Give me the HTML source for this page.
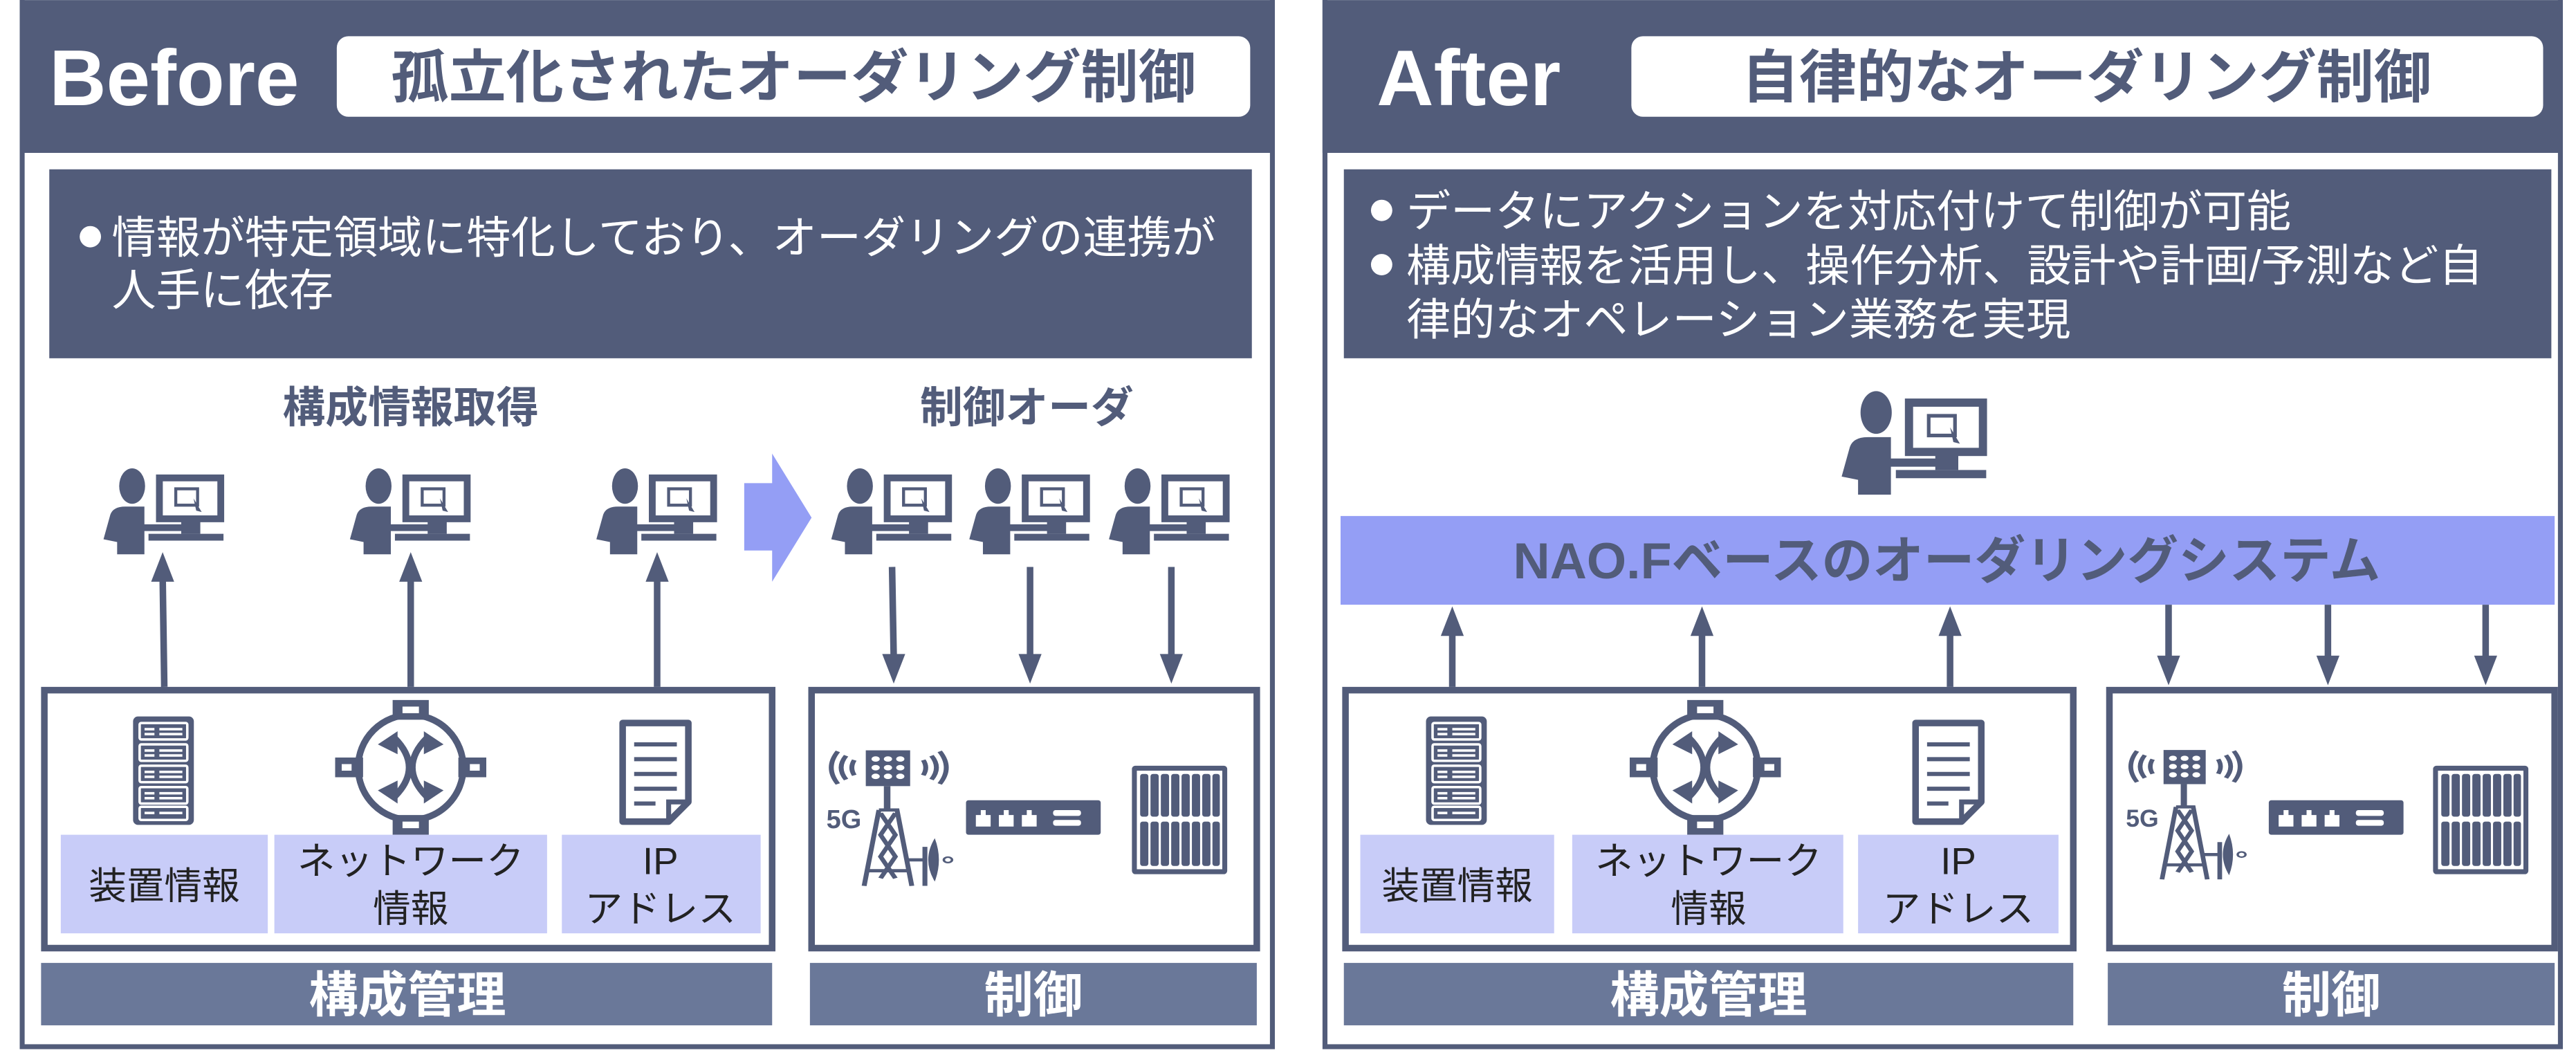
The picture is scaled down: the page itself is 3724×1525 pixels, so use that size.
<!DOCTYPE html>
<html><head><meta charset="utf-8"><style>
html,body{margin:0;padding:0;background:#fff;}
svg{display:block;}
text{font-family:"Liberation Sans","Noto Sans CJK JP",sans-serif;}
</style></head><body>
<svg width="3724" height="1525" viewBox="0 0 1568 642" xmlns="http://www.w3.org/2000/svg">
<defs>
<g id="person">
  <ellipse cx="21" cy="13" rx="9.5" ry="13" fill="#525c7a"/>
  <path d="M0,52 L5,34 Q7,28 16,28 L30,28 L30,41 L58,41 L58,46 L30,46 L30,63 L10,63 L10,54 Z" fill="#525c7a"/>
  <rect x="41" y="7" width="45" height="30" fill="#fff" stroke="#525c7a" stroke-width="5"/>
  <rect x="53" y="15" width="16" height="12" fill="none" stroke="#525c7a" stroke-width="2.2"/>
  <path d="M66,22 L72,32 L68,31 Z" fill="#525c7a"/>
  <rect x="57" y="39" width="14" height="9" fill="#525c7a"/>
  <rect x="33" y="48" width="55" height="5" fill="#525c7a"/>
</g>
<g id="server">
  <rect x="0" y="0" width="37" height="66" rx="3" fill="#525c7a"/>
  <g fill="none" stroke="#fff" stroke-width="1.5">
    <rect x="4" y="4" width="29" height="10" rx="1"/>
    <rect x="4" y="17" width="29" height="10" rx="1"/>
    <rect x="4" y="30" width="29" height="10" rx="1"/>
    <rect x="4" y="43" width="29" height="10" rx="1"/>
    <rect x="4" y="55" width="29" height="8" rx="1"/>
  </g>
  <g fill="#fff"><rect x="7" y="7" width="6" height="1.5"/><rect x="16" y="7" width="14" height="1.5"/><rect x="7" y="10" width="6" height="1.5"/><rect x="16" y="10" width="14" height="1.5"/>
  <rect x="7" y="20" width="6" height="1.5"/><rect x="16" y="20" width="14" height="1.5"/><rect x="7" y="23" width="6" height="1.5"/><rect x="16" y="23" width="14" height="1.5"/>
  <rect x="7" y="33" width="6" height="1.5"/><rect x="16" y="33" width="14" height="1.5"/><rect x="7" y="36" width="6" height="1.5"/><rect x="16" y="36" width="14" height="1.5"/>
  <rect x="7" y="46" width="6" height="1.5"/><rect x="16" y="46" width="14" height="1.5"/><rect x="7" y="49" width="6" height="1.5"/><rect x="16" y="49" width="14" height="1.5"/>
  <rect x="7" y="58" width="6" height="1.5"/><rect x="16" y="58" width="14" height="1.5"/></g>
</g>
<g id="router">
  <circle cx="0" cy="0" r="32" fill="none" stroke="#525c7a" stroke-width="4"/>
  <rect x="-11" y="-41" width="22" height="12" fill="#525c7a"/><rect x="-5" y="-37" width="10" height="4" fill="#fff"/>
  <rect x="-11" y="29" width="22" height="12" fill="#525c7a"/><rect x="-5" y="33" width="10" height="4" fill="#fff"/>
  <rect x="-46" y="-6" width="17" height="12" fill="#525c7a"/><rect x="-42" y="-2" width="6" height="4" fill="#fff"/>
  <rect x="29" y="-6" width="17" height="12" fill="#525c7a"/><rect x="36" y="-2" width="6" height="4" fill="#fff"/>
  <path d="M-10,-18 Q8,0 -10,18 M10,-18 Q-8,0 10,18" stroke="#525c7a" stroke-width="4" fill="none"/>
  <path d="M-20,-14 L-8,-22 L-8,-8 Z M20,-14 L8,-22 L8,-8 Z M-20,14 L-8,22 L-8,8 Z M20,14 L8,22 L8,8 Z" fill="#525c7a"/>
</g>
<g id="doc">
  <path d="M2,2 L42,2 L42,50 L30,62 L2,62 Z" fill="#fff" stroke="#525c7a" stroke-width="4" stroke-linejoin="round"/>
  <path d="M30,62 L30,50 L42,50" fill="none" stroke="#525c7a" stroke-width="3"/>
  <g stroke="#525c7a" stroke-width="2.5"><line x1="9" y1="15" x2="35" y2="15"/><line x1="9" y1="24" x2="35" y2="24"/><line x1="9" y1="33" x2="35" y2="33"/><line x1="9" y1="42" x2="35" y2="42"/><line x1="9" y1="51" x2="22" y2="51"/></g>
</g>
<g id="tower">
  <g fill="none" stroke="#525c7a" stroke-width="3">
    <path d="M4,8 Q-4,23 4,38 M9,12 Q3,23 9,34 M14,16 Q11,23 14,30"/>
    <path d="M66,8 Q74,23 66,38 M61,12 Q67,23 61,34 M56,16 Q59,23 56,30"/>
    <path d="M29,62 L40,62 L49,132 M29,62 L20,132 M30,65 L39,85 L30,105 L39,125 M39,65 L30,85 L39,105 L30,125 M22,118 L47,118"/>
    <path d="M45,108 L58,108 M57,96 L57,132"/>
  </g>
  <rect x="21" y="7" width="27" height="33" fill="#525c7a"/>
  <g fill="#fff"><circle cx="27" cy="15" r="2.5"/><circle cx="34.5" cy="15" r="2.5"/><circle cx="42" cy="15" r="2.5"/><circle cx="27" cy="23" r="2.5"/><circle cx="34.5" cy="23" r="2.5"/><circle cx="42" cy="23" r="2.5"/><circle cx="27" cy="31" r="2.5"/><circle cx="34.5" cy="31" r="2.5"/><circle cx="42" cy="31" r="2.5"/></g>
  <rect x="32" y="40" width="4" height="22" fill="#525c7a"/>
  <path d="M63,88 Q55,108 63,128 Q68,108 63,88 Z" fill="#525c7a"/>
  <circle cx="71" cy="108" r="2.5" fill="none" stroke="#525c7a" stroke-width="1.5"/>
</g>
<g id="switch">
  <rect x="0" y="0" width="82" height="21" rx="1.5" fill="#525c7a"/>
  <g fill="#fff"><path d="M6,16 L6,9 L9,9 L9,6 L12,6 L12,9 L15,9 L15,16 Z"/><path d="M20,16 L20,9 L23,9 L23,6 L26,6 L26,9 L29,9 L29,16 Z"/><path d="M34,16 L34,9 L37,9 L37,6 L40,6 L40,9 L43,9 L43,16 Z"/><rect x="53" y="6" width="17" height="3.5" rx="1.5"/><rect x="53" y="12" width="17" height="3.5" rx="1.5"/></g>
</g>
<g id="rack">
  <rect x="0" y="0" width="58" height="66" rx="2" fill="#525c7a"/>
  <rect x="3" y="3" width="52" height="60" fill="#fff"/>
  <g fill="#525c7a">
    <rect x="5" y="5" width="5" height="26" rx="1.5"/><rect x="11.3" y="5" width="5" height="26" rx="1.5"/><rect x="17.6" y="5" width="5" height="26" rx="1.5"/><rect x="23.9" y="5" width="5" height="26" rx="1.5"/><rect x="30.2" y="5" width="5" height="26" rx="1.5"/><rect x="36.5" y="5" width="5" height="26" rx="1.5"/><rect x="42.8" y="5" width="5" height="26" rx="1.5"/><rect x="49" y="5" width="4.5" height="26" rx="1.5"/>
    <rect x="5" y="34" width="5" height="27" rx="1.5"/><rect x="11.3" y="34" width="5" height="27" rx="1.5"/><rect x="17.6" y="34" width="5" height="27" rx="1.5"/><rect x="23.9" y="34" width="5" height="27" rx="1.5"/><rect x="30.2" y="34" width="5" height="27" rx="1.5"/><rect x="36.5" y="34" width="5" height="27" rx="1.5"/><rect x="42.8" y="34" width="5" height="27" rx="1.5"/><rect x="49" y="34" width="4.5" height="27" rx="1.5"/>
  </g>
</g>
<g id="upArrow"><path d="M-7,16 L0,-2 L7,16 Z" fill="#525c7a"/></g>
<g id="downArrow"><path d="M-7,-16 L0,2 L7,-16 Z" fill="#525c7a"/></g>
</defs>

<!-- BEFORE -->
<rect x="13.5" y="-2" width="761" height="639" fill="#fff" stroke="#525c7a" stroke-width="3"/>
<rect x="12" y="0" width="764" height="93" fill="#525c7a"/>
<text x="30" y="64" font-size="48" font-weight="bold" fill="#fff">Before</text>
<rect x="205" y="22" width="556" height="49" rx="7" fill="#fff"/>
<text x="483" y="59" font-size="35" font-weight="bold" fill="#525c7a" text-anchor="middle">孤立化されたオーダリング制御</text>
<rect x="30" y="103" width="732" height="115" fill="#525c7a"/>
<circle cx="55" cy="144" r="6.5" fill="#fff"/>
<text x="68" y="154" font-size="27" fill="#fff">情報が特定領域に特化しており、オーダリングの連携が</text>
<text x="68" y="186" font-size="27" fill="#fff">人手に依存</text>
<text x="250" y="257" font-size="26" font-weight="bold" fill="#525c7a" text-anchor="middle">構成情報取得</text>
<text x="625" y="257" font-size="26" font-weight="bold" fill="#525c7a" text-anchor="middle">制御オーダ</text>

<g transform="translate(63,285) scale(0.83)"><use href="#person"/></g>
<g transform="translate(213,285) scale(0.83)"><use href="#person"/></g>
<g transform="translate(363,285) scale(0.83)"><use href="#person"/></g>
<g transform="translate(506,285) scale(0.83)"><use href="#person"/></g>
<g transform="translate(590,285) scale(0.83)"><use href="#person"/></g>
<g transform="translate(675,285) scale(0.83)"><use href="#person"/></g>
<polygon points="453,294 470,294 470,276 494,315 470,354 470,335 453,335" fill="#949ef5"/>

<g stroke="#525c7a" stroke-width="4">
<line x1="100" y1="418" x2="99" y2="350"/><line x1="250" y1="418" x2="250" y2="350"/><line x1="400" y1="418" x2="400" y2="350"/>
<line x1="543" y1="345" x2="544" y2="400"/><line x1="627" y1="345" x2="627" y2="400"/><line x1="713" y1="345" x2="713" y2="400"/>
</g>
<use href="#upArrow" x="99" y="338"/><use href="#upArrow" x="250" y="338"/><use href="#upArrow" x="400" y="338"/>
<use href="#downArrow" x="544" y="414"/><use href="#downArrow" x="627" y="414"/><use href="#downArrow" x="713" y="414"/>

<rect x="27" y="420" width="443" height="157" fill="#fff" stroke="#525c7a" stroke-width="4"/>
<rect x="494" y="420" width="271" height="157" fill="#fff" stroke="#525c7a" stroke-width="4"/>
<use href="#server" x="81" y="436"/>
<use href="#router" x="250" y="467"/>
<use href="#doc" x="377" y="438"/>
<rect x="37" y="508" width="126" height="60" fill="#c8ccf8"/>
<rect x="167" y="508" width="166" height="60" fill="#c8ccf8"/>
<rect x="342" y="508" width="121" height="60" fill="#c8ccf8"/>
<text x="100" y="547" font-size="23" fill="#222" text-anchor="middle">装置情報</text>
<text x="250" y="532" font-size="23" fill="#222" text-anchor="middle">ネットワーク</text>
<text x="250" y="561" font-size="23" fill="#222" text-anchor="middle">情報</text>
<text x="402" y="532" font-size="23" fill="#222" text-anchor="middle">IP</text>
<text x="402" y="561" font-size="23" fill="#222" text-anchor="middle">アドレス</text>
<g transform="translate(506,452) scale(1,0.66)"><use href="#tower"/></g>
<text x="503" y="504" font-size="16" font-weight="bold" fill="#525c7a">5G</text>
<use href="#switch" x="588" y="487"/>
<use href="#rack" x="689" y="466"/>
<rect x="25" y="586" width="445" height="38" fill="#6a7899"/>
<rect x="493" y="586" width="272" height="38" fill="#6a7899"/>
<text x="248" y="616" font-size="30" font-weight="bold" fill="#fff" text-anchor="middle">構成管理</text>
<text x="629" y="616" font-size="30" font-weight="bold" fill="#fff" text-anchor="middle">制御</text>

<!-- AFTER -->
<rect x="806.5" y="-2" width="752" height="639" fill="#fff" stroke="#525c7a" stroke-width="3"/>
<rect x="805" y="0" width="755" height="93" fill="#525c7a"/>
<text x="838" y="64" font-size="48" font-weight="bold" fill="#fff">After</text>
<rect x="993" y="22" width="555" height="49" rx="7" fill="#fff"/>
<text x="1270" y="59" font-size="35" font-weight="bold" fill="#525c7a" text-anchor="middle">自律的なオーダリング制御</text>
<rect x="818" y="103" width="735" height="115" fill="#525c7a"/>
<circle cx="841" cy="128" r="6.5" fill="#fff"/>
<circle cx="841" cy="161" r="6.5" fill="#fff"/>
<text x="856" y="138" font-size="27" fill="#fff">データにアクションを対応付けて制御が可能</text>
<text x="856" y="171" font-size="27" fill="#fff">構成情報を活用し、操作分析、設計や計画/予測など自</text>
<text x="856" y="204" font-size="27" fill="#fff">律的なオペレーション業務を実現</text>
<g transform="translate(1121,238)"><use href="#person"/></g>
<rect x="816" y="314" width="739" height="54" fill="#949ef5"/>
<text x="1185" y="352" font-size="31" font-weight="bold" fill="#525c7a" text-anchor="middle">NAO.Fベースのオーダリングシステム</text>

<g stroke="#525c7a" stroke-width="4">
<line x1="884" y1="418" x2="884" y2="384"/><line x1="1036" y1="418" x2="1036" y2="384"/><line x1="1187" y1="418" x2="1187" y2="384"/>
<line x1="1320" y1="368" x2="1320" y2="402"/><line x1="1417" y1="368" x2="1417" y2="402"/><line x1="1513" y1="368" x2="1513" y2="402"/>
</g>
<use href="#upArrow" x="884" y="371"/><use href="#upArrow" x="1036" y="371"/><use href="#upArrow" x="1187" y="371"/>
<use href="#downArrow" x="1320" y="415"/><use href="#downArrow" x="1417" y="415"/><use href="#downArrow" x="1513" y="415"/>

<rect x="819" y="420" width="443" height="157" fill="#fff" stroke="#525c7a" stroke-width="4"/>
<rect x="1284" y="420" width="271" height="157" fill="#fff" stroke="#525c7a" stroke-width="4"/>
<use href="#server" x="868" y="436"/>
<use href="#router" x="1038" y="467"/>
<use href="#doc" x="1164" y="438"/>
<rect x="828" y="508" width="118" height="60" fill="#c8ccf8"/>
<rect x="957" y="508" width="165" height="60" fill="#c8ccf8"/>
<rect x="1131" y="508" width="122" height="60" fill="#c8ccf8"/>
<text x="887" y="547" font-size="23" fill="#222" text-anchor="middle">装置情報</text>
<text x="1040" y="532" font-size="23" fill="#222" text-anchor="middle">ネットワーク</text>
<text x="1040" y="561" font-size="23" fill="#222" text-anchor="middle">情報</text>
<text x="1192" y="532" font-size="23" fill="#222" text-anchor="middle">IP</text>
<text x="1192" y="561" font-size="23" fill="#222" text-anchor="middle">アドレス</text>
<g transform="translate(1297,452) scale(0.95,0.63)"><use href="#tower"/></g>
<text x="1294" y="503" font-size="15" font-weight="bold" fill="#525c7a">5G</text>
<use href="#switch" x="1381" y="487"/>
<use href="#rack" x="1481" y="466"/>
<rect x="818" y="586" width="444" height="38" fill="#6a7899"/>
<rect x="1283" y="586" width="272" height="38" fill="#6a7899"/>
<text x="1040" y="616" font-size="30" font-weight="bold" fill="#fff" text-anchor="middle">構成管理</text>
<text x="1419" y="616" font-size="30" font-weight="bold" fill="#fff" text-anchor="middle">制御</text>
</svg>
</body></html>
